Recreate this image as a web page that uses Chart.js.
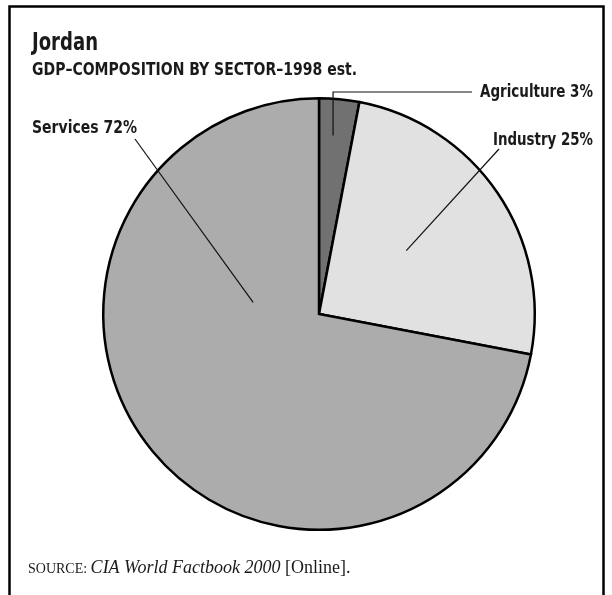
<!DOCTYPE html>
<html>
<head>
<meta charset="utf-8">
<script src="https://cdn.jsdelivr.net/npm/chart.js@4/dist/chart.umd.min.js"></script>
<style>
  html, body { margin: 0; padding: 0; background: #fff; }
  #wrap { position: relative; width: 612px; height: 595px; }
</style>
</head>
<body>
<div id="wrap"><canvas id="pieChart" width="612" height="595"></canvas></div>
<script>
var sectors = ["Agriculture", "Industry", "Services"];
var shares = [3, 25, 72];
var sliceColors = ["#717171", "#e1e1e1", "#acacac"];

var condensed = '"Liberation Sans Narrow", "DejaVu Sans Condensed", "Arial Narrow", sans-serif';

// where each label sits and where its leader line touches the slice
var labelSpots = [
  { x: 593, y: 97, w: 113, anchorAngle: 4.5, anchorR: 0.83, elbow: true, lineEnd: [472, 92] },
  { x: 593, y: 145, w: 100, anchorAngle: 54, anchorR: 0.5, lineEnd: [499, 149] },
  { x: 32, y: 133, w: 105, anchorAngle: 280, anchorR: 0.31, lineEnd: [135, 139] }
];

// squeeze or stretch a line of text to a given width
function fitText(ctx, txt, x, y, w, align) {
  var natural = ctx.measureText(txt).width;
  var s = w / natural;
  ctx.save();
  ctx.textAlign = 'left';
  var left = align === 'right' ? x - w : x;
  ctx.translate(left, y);
  ctx.scale(s, 1);
  ctx.fillText(txt, 0, 0);
  ctx.restore();
}

var decorations = {
  id: 'decorations',
  beforeDraw: function (chart) {
    var ctx = chart.ctx;
    ctx.save();
    // frame, open at the bottom
    ctx.strokeStyle = '#000';
    ctx.lineWidth = 2.5;
    ctx.beginPath();
    ctx.moveTo(9.5, 600);
    ctx.lineTo(9.5, 6.5);
    ctx.lineTo(603.5, 6.5);
    ctx.lineTo(603.5, 600);
    ctx.stroke();

    ctx.fillStyle = '#1a1a1a';
    ctx.textBaseline = 'alphabetic';
    ctx.font = 'bold 25px ' + condensed;
    fitText(ctx, 'Jordan', 32, 50, 66);
    ctx.font = 'bold 17px ' + condensed;
    fitText(ctx, 'GDP\u2013COMPOSITION BY SECTOR\u20131998 est.', 32, 75, 325);

    // source line
    var x = 28;
    ctx.font = '14px "Liberation Serif", serif';
    ctx.fillText('SOURCE:', x, 573);
    x += ctx.measureText('SOURCE: ').width;
    ctx.font = 'italic 18px "Liberation Serif", serif';
    ctx.fillText('CIA World Factbook 2000', x, 573);
    x += ctx.measureText('CIA World Factbook 2000 ').width;
    ctx.font = '18px "Liberation Serif", serif';
    ctx.fillText('[Online].', x, 573);
    ctx.restore();
  },
  afterDraw: function (chart) {
    var ctx = chart.ctx;
    var arcs = chart.getDatasetMeta(0).data;
    ctx.save();
    ctx.strokeStyle = '#111';
    ctx.lineWidth = 1.2;
    ctx.fillStyle = '#1a1a1a';
    ctx.font = 'bold 17px ' + condensed;
    arcs.forEach(function (arc, i) {
      var spot = labelSpots[i];
      var p = arc.getProps(['x', 'y', 'outerRadius']);
      var a = (spot.anchorAngle - 90) * Math.PI / 180;
      var ax = p.x + Math.cos(a) * p.outerRadius * spot.anchorR;
      var ay = p.y + Math.sin(a) * p.outerRadius * spot.anchorR;
      ctx.beginPath();
      ctx.moveTo(ax, ay);
      if (spot.elbow) {
        ctx.lineTo(ax, spot.lineEnd[1]);
      }
      ctx.lineTo(spot.lineEnd[0], spot.lineEnd[1]);
      ctx.stroke();
      var txt = sectors[i] + ' ' + shares[i] + '%';
      fitText(ctx, txt, spot.x, spot.y, spot.w, i === 2 ? 'left' : 'right');
    });
    ctx.restore();
  }
};

new Chart(document.getElementById('pieChart'), {
  type: 'pie',
  data: {
    labels: sectors,
    datasets: [{
      data: shares,
      backgroundColor: sliceColors,
      borderColor: '#000',
      borderWidth: 2.5,
      borderJoinStyle: 'miter'
    }]
  },
  options: {
    responsive: false,
    animation: false,
    events: [],
    layout: { padding: { left: 102, right: 76, top: 97, bottom: 64 } },
    plugins: {
      legend: { display: false },
      tooltip: { enabled: false },
      title: { display: false }
    }
  },
  plugins: [decorations]
});
</script>
</body>
</html>
